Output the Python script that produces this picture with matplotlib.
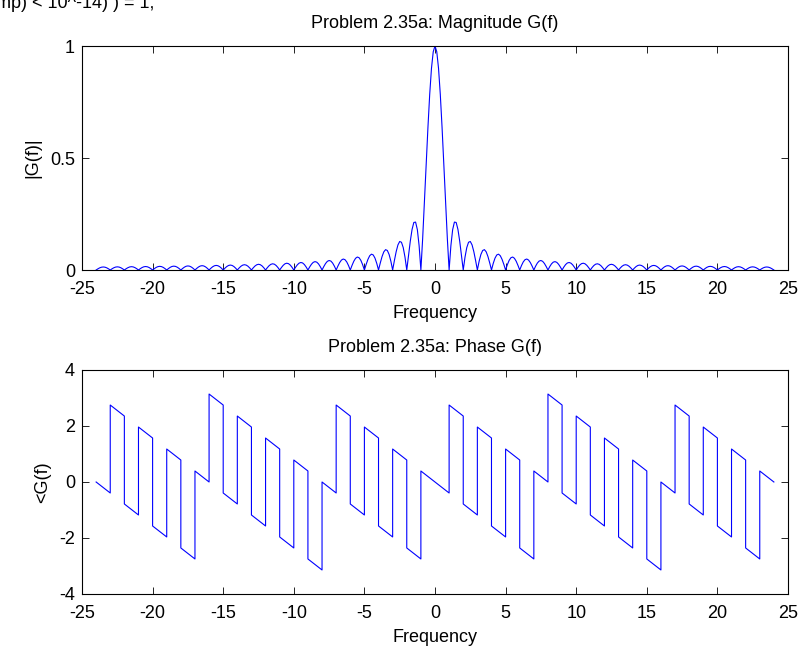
import numpy as np
import matplotlib
matplotlib.use("Agg")
import matplotlib.pyplot as plt

plt.rcParams['font.family'] = ['Liberation Sans', 'DejaVu Sans']

# ---- Magnitude |G(f)|, read at f = 0, 0.125, ..., 24 (curve is symmetric about f=0)
mag_step = 0.125
mag_pos = [
    1.0, 0.9745, 0.9003, 0.7842, 0.6366, 0.4705, 0.3001, 0.1392,
    0.0, 0.1083, 0.1801, 0.2139, 0.2122, 0.1810, 0.1286, 0.0650,
    0.0, 0.0573, 0.1000, 0.1238, 0.1273, 0.1120, 0.0818, 0.0424,
    0.0, 0.0390, 0.0693, 0.0871, 0.0909, 0.0811, 0.0600, 0.0314,
    0.0, 0.0295, 0.0530, 0.0672, 0.0707, 0.0636, 0.0474, 0.0250,
    0.0, 0.0238, 0.0429, 0.0547, 0.0579, 0.0523, 0.0391, 0.0207,
    0.0, 0.0199, 0.0360, 0.0461, 0.0490, 0.0444, 0.0333, 0.0177,
    0.0, 0.0171, 0.0310, 0.0399, 0.0424, 0.0386, 0.0290, 0.0155,
    0.0, 0.0150, 0.0273, 0.0351, 0.0374, 0.0341, 0.0257, 0.0137,
    0.0, 0.0133, 0.0243, 0.0314, 0.0335, 0.0306, 0.0231, 0.0123,
    0.0, 0.0120, 0.0220, 0.0283, 0.0303, 0.0277, 0.0209, 0.0112,
    0.0, 0.0110, 0.0200, 0.0259, 0.0277, 0.0253, 0.0192, 0.0103,
    0.0, 0.0100, 0.0184, 0.0238, 0.0255, 0.0233, 0.0177, 0.0095,
    0.0, 0.0093, 0.0170, 0.0220, 0.0236, 0.0216, 0.0164, 0.0088,
    0.0, 0.0086, 0.0158, 0.0205, 0.0220, 0.0201, 0.0153, 0.0082,
    0.0, 0.0081, 0.0148, 0.0191, 0.0205, 0.0188, 0.0143, 0.0077,
    0.0, 0.0076, 0.0139, 0.0180, 0.0193, 0.0177, 0.0134, 0.0072,
    0.0, 0.0071, 0.0130, 0.0169, 0.0182, 0.0167, 0.0127, 0.0068,
    0.0, 0.0067, 0.0123, 0.0160, 0.0172, 0.0158, 0.0120, 0.0065,
    0.0, 0.0064, 0.0117, 0.0152, 0.0163, 0.0150, 0.0114, 0.0061,
    0.0, 0.0061, 0.0111, 0.0144, 0.0155, 0.0143, 0.0108, 0.0058,
    0.0, 0.0058, 0.0106, 0.0138, 0.0148, 0.0136, 0.0103, 0.0056,
    0.0, 0.0055, 0.0101, 0.0131, 0.0141, 0.0130, 0.0099, 0.0053,
    0.0, 0.0053, 0.0097, 0.0126, 0.0135, 0.0124, 0.0095, 0.0051,
    0.0,
]

# ---- Phase <G(f): straight segments between jump frequencies
phase_edges = [-24, -23, -22, -21, -20, -19, -18, -17, -16, -15, -14, -13,
               -12, -11, -10, -9, -8, -7, -6, -5, -4, -3, -2, -1,
               1, 2, 3, 4, 5, 6, 7, 8, 9, 10, 11, 12, 13, 14, 15, 16,
               17, 18, 19, 20, 21, 22, 23, 24]
phase_start = [0.0, 2.749, -0.785, 1.963, -1.571, 1.178, -2.356, 0.393,
               3.142, -0.393, 2.356, -1.178, 1.571, -1.963, 0.785, -2.749,
               0.0, 2.749, -0.785, 1.963, -1.571, 1.178, -2.356, 0.393,
               2.749, -0.785, 1.963, -1.571, 1.178, -2.356, 0.393, 3.142,
               -0.393, 2.356, -1.178, 1.571, -1.963, 0.785, -2.749, 0.0,
               2.749, -0.785, 1.963, -1.571, 1.178, -2.356, 0.393]
phase_end = [-0.393, 2.356, -1.178, 1.571, -1.963, 0.785, -2.749, 0.0,
             2.749, -0.785, 1.963, -1.571, 1.178, -2.356, 0.393, -3.142,
             -0.393, 2.356, -1.178, 1.571, -1.963, 0.785, -2.749, -0.393,
             2.356, -1.178, 1.571, -1.963, 0.785, -2.749, 0.0, 2.749,
             -0.785, 1.963, -1.571, 1.178, -2.356, 0.393, -3.142, -0.393,
             2.356, -1.178, 1.571, -1.963, 0.785, -2.749, 0.0]

x_ticks = [-25, -20, -15, -10, -5, 0, 5, 10, 15, 20, 25]
mag_yticks = [0, 0.5, 1]
mag_yticklabels = ['0', '0.5', '1']
phase_yticks = [-4, -2, 0, 2, 4]

# ---- build plotting arrays
mag_pos = np.array(mag_pos)
f_pos = np.arange(len(mag_pos)) * mag_step
freq = np.concatenate([-f_pos[:0:-1], f_pos])
mag = np.concatenate([mag_pos[:0:-1], mag_pos])

ph_f, ph_v = [], []
for a, b, s, e in zip(phase_edges[:-1], phase_edges[1:], phase_start, phase_end):
    ph_f += [a, b]
    ph_v += [s, e]

W, H = 801, 650
fig = plt.figure(figsize=(W / 100, H / 100), dpi=100)
fs = 13

def style(ax):
    ax.tick_params(direction='in', top=True, right=True, length=5, width=0.6,
                   labelsize=fs)
    ax.tick_params(axis='x', pad=8)
    ax.tick_params(axis='y', pad=5)
    for sp in ax.spines.values():
        sp.set_linewidth(0.8)

ax1 = fig.add_axes([82 / W, 1 - 270 / H, 706 / W, 224 / H])
ax1.plot(freq, mag, color=(0, 0, 1), lw=0.8)
ax1.set_xlim(-25, 25)
ax1.set_ylim(0, 1)
ax1.set_xticks(x_ticks)
ax1.set_xticklabels([str(t) for t in x_ticks])
ax1.set_yticks(mag_yticks)
ax1.set_yticklabels(mag_yticklabels)
ax1.set_title('Problem 2.35a: Magnitude G(f)', fontsize=fs, pad=13)
ax1.set_xlabel('Frequency', fontsize=fs, labelpad=5)
ax1.set_ylabel('|G(f)|', fontsize=fs, labelpad=6)
style(ax1)

ax2 = fig.add_axes([82 / W, 1 - 594 / H, 706 / W, 224 / H])
ax2.plot(ph_f, ph_v, color=(0, 0, 1), lw=0.8)
ax2.set_xlim(-25, 25)
ax2.set_ylim(-4, 4)
ax2.set_xticks(x_ticks)
ax2.set_xticklabels([str(t) for t in x_ticks])
ax2.set_yticks(phase_yticks)
ax2.set_yticklabels([str(t) for t in phase_yticks])
ax2.set_title('Problem 2.35a: Phase G(f)', fontsize=fs, pad=13)
ax2.set_xlabel('Frequency', fontsize=fs, labelpad=5)
ax2.set_ylabel('<G(f)', fontsize=fs, labelpad=6)
style(ax2)

fig.text(-4 / W, 1 - 8 / H, 'mp) < 10^-14) ) = 1;', fontsize=fs,
         ha='left', va='baseline')

fig.savefig('out.png', dpi=100)
